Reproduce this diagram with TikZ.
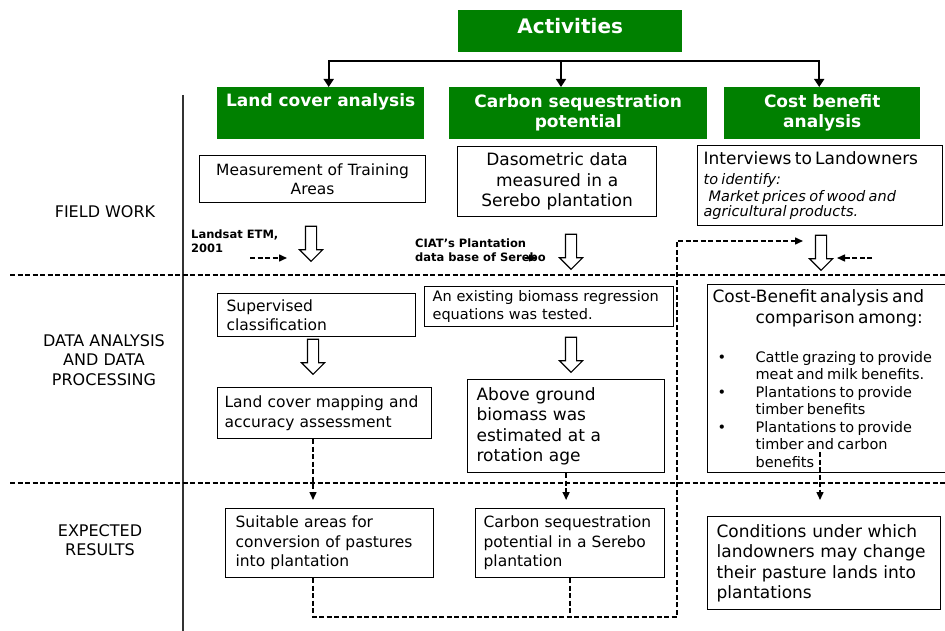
\documentclass[tikz,border=0pt]{standalone}
\usepackage{fontspec}
\setmainfont{DejaVu Sans}
\usepackage{xcolor}
\usetikzlibrary{
  arrows.meta,
  shapes.arrows
}
\definecolor{actgreen}{RGB}{0,128,0}
\newcommand{\fnorm}{\fontsize{15.5}{19.5}\selectfont}
\newcommand{\fbig}{\fontsize{17}{20.5}\selectfont}
\newcommand{\fsmall}{\fontsize{14.5}{17.5}\selectfont}
\newcommand{\frow}{\fontsize{16}{19.5}\selectfont}
\newcommand{\ftag}{\bfseries\fontsize{11.5}{13.5}\selectfont}
\newcommand{\bul}{\makebox[43pt][l]{\hspace{5pt}\textbullet}}

\begin{document}
\begin{tikzpicture}[x=1pt, y=-1pt,
    head/.style = {fill=actgreen, text=white, anchor=north west,
      font=\bfseries\fontsize{17}{20}\selectfont, align=center, inner sep=0pt},
    box/.style = {draw, line width=1.2pt, anchor=north west,
      inner xsep=8pt, inner ysep=2pt},
    down/.style = {draw, line width=1.1pt, single arrow,
      single arrow head extend=6pt, minimum height=35pt,
      inner sep=5pt, rotate=-90},
    dashline/.style = {line width=1.5pt, dash pattern=on 5pt off 2.5pt},
    dasharrow/.style = {dashline, -{Triangle[length=8pt,width=7pt]}},
    topline/.style = {line width=1.6pt, -{Triangle[length=8pt,width=10pt]}}]
    \useasboundingbox (0,0) rectangle (945,631);

    % headers
    \node[head, minimum width=224pt, minimum height=42pt, text depth=11pt,
      font=\bfseries\fontsize{20}{24}\selectfont] (Act) at (458,10) {Activities};
    \node[head, minimum width=207pt, minimum height=52pt] (L0) at (217,87)
      {Land cover analysis\\\strut};
    \node[head, minimum width=258pt, minimum height=52pt] (C0) at (449,87)
      {Carbon sequestration\\potential};
    \node[head, minimum width=196pt, minimum height=52pt] (K0) at (724,87)
      {Cost benefit\\analysis};

    \coordinate (bar) at (561,61);
    \draw[topline] (bar) -| ([xshift=8pt]L0.north);
    \draw[topline] (bar) -| ([xshift=-3pt]K0.north);
    \draw[topline] (bar) -- (bar |- C0.north);

    % row names and separators
    \node[font=\frow, align=center] (fw) at (105,212) {FIELD WORK};
    \node[font=\frow, align=center] (dp) at (104,360)
      {DATA ANALYSIS\\AND DATA\\PROCESSING};
    \node[font=\frow, align=center] (er) at (100,540) {EXPECTED\\RESULTS};

    \draw[black!80, line width=1.5pt] (183,95) -- (183,631);
    \draw[dashline] (10,275) -- (945,275);
    \draw[dashline] (10,483) -- (945,483);

    % field work
    \node[box, align=center, font=\fnorm, text width=210pt,
      minimum height=47pt] (L1) at (199,155) {Measurement of Training\\Areas};
    \node[box, align=center, font=\fbig, text width=183pt,
      minimum height=70pt] (C1) at (457,146)
      {Dasometric data\\measured in a\\Serebo plantation};
    \node[box, align=left, inner xsep=6pt, text width=233pt,
      minimum height=80pt] (K1) at (697,145)
      {{\fbig Interviews to Landowners}\\[2pt]
       \fsmall\itshape to identify:\\
       \hspace*{5pt}Market prices of wood and\\
       agricultural products.};

    \node[anchor=west, align=left, font=\ftag, inner sep=0pt] (Sat) at (191,241)
      {Landsat ETM,\\2001};
    \node[anchor=west, align=left, font=\ftag, inner sep=0pt] (Ciat) at (415,250)
      {CIAT's Plantation\\data base of Serebo};

    \node[down] (L1a) at (311,241) {};
    \node[down] (C1a) at (571,249) {};
    \node[down] (K1a) at (821,250) {};

    \coordinate (satA) at (250,258);
    \coordinate (satB) at (287,258);
    \coordinate (ciatB) at (537,258);
    \coordinate (costA) at (872,258);
    \coordinate (costB) at (837,258);
    \draw[dasharrow] (satA) -- (satB);
    \draw[dasharrow] ([xshift=-12pt]ciatB) -- (ciatB);
    \draw[dasharrow] (costA) -- (costB);

    % data analysis and processing
    \node[box, align=left, inner xsep=9pt, text width=180pt,
      minimum height=43pt, font=\fnorm] (L2) at (217,293)
      {Supervised\\classification};
    \node[box, align=left, text width=233pt,
      minimum height=40pt, font=\fsmall] (C2) at (424,286)
      {An existing biomass regression\\equations was tested.};
    \node[box, align=left, inner xsep=5pt, text width=228pt,
      minimum height=188pt] (K2) at (707,284)
      {{\fbig Cost-Benefit analysis and\\
        \hspace*{43pt}comparison among:\par}
       \vspace{21.5pt}
       {\fsmall \bul Cattle grazing to provide\\
        \hspace*{43pt}meat and milk benefits.\\
        \bul Plantations to provide\\
        \hspace*{43pt}timber benefits\\
        \bul Plantations to provide\\
        \hspace*{43pt}timber and carbon\\
        \hspace*{43pt}benefits\par}};

    \node[down] (L2a) at (313,354) {};
    \node[down] (C2a) at (571,352) {};

    \node[box, align=left, inner xsep=7pt, text width=200pt,
      minimum height=51pt, font=\fnorm] (L3) at (217,387)
      {Land cover mapping and\\accuracy assessment};
    \node[box, align=left, inner xsep=9pt, text width=179pt,
      minimum height=93pt, font=\fbig] (C3) at (467,379)
      {Above ground\\biomass was\\estimated at a\\rotation age};

    % expected results
    \node[box, align=left, inner xsep=10pt, text width=188pt,
      minimum height=69pt, font=\fnorm] (L4) at (225,508)
      {Suitable areas for\\conversion of pastures\\into plantation};
    \node[box, align=left, text width=173pt,
      minimum height=69pt, font=\fnorm] (C4) at (475,508)
      {Carbon sequestration\\potential in a Serebo\\plantation};
    \node[box, align=left, inner xsep=9pt, text width=215pt,
      minimum height=93pt, font=\fbig] (K4) at (707,516)
      {Conditions under which\\landowners may change\\their pasture lands into\\plantations};

    \draw[dasharrow, shorten >=8pt] (L3.south -| L2a) -- (L4.north -| L2a);
    \draw[dasharrow, shorten >=8pt] (C3.south) -- (C3.south |- C4.north);
    \coordinate (kdrop) at (820,452);
    \draw[dasharrow, shorten >=16pt] (kdrop) -- (kdrop |- K4.north);

    % feedback to the interviews
    \coordinate (loop) at (677,617);
    \coordinate (kin) at (803,241);
    \draw[dasharrow] (L4.south -| L2a) |- (loop) |- (kin);
    \draw[dashline] (C4.south) -- (C4.south |- loop);
\end{tikzpicture}
\end{document}
